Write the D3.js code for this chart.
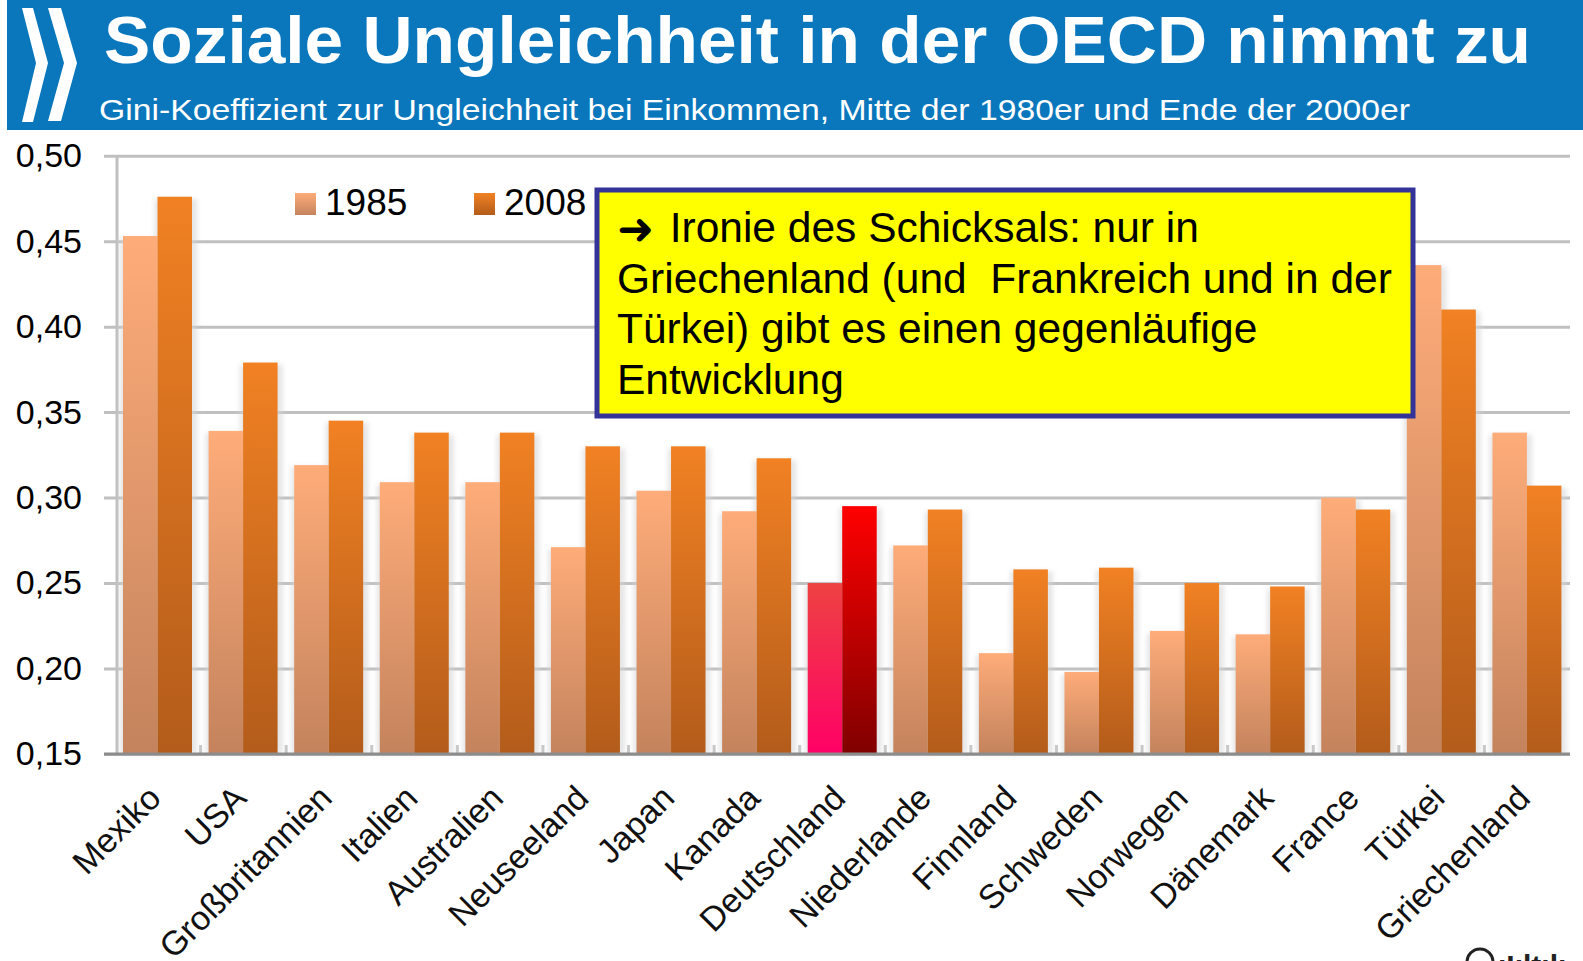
<!DOCTYPE html>
<html>
<head>
  <meta charset="UTF-8">
  <style>
    body { margin: 0; background: white; }
    svg { display: block; font-family: "Liberation Sans", Arial, sans-serif; }
  </style>
</head>
<body>

<svg></svg>
<script src="https://d3js.org/d3.v7.min.js"></script>

<script>

// Chart data (Gini coefficients)
let countries = ["Mexiko", "USA", "Großbritannien", "Italien", "Australien", "Neuseeland",
  "Japan", "Kanada", "Deutschland", "Niederlande", "Finnland", "Schweden", "Norwegen",
  "Dänemark", "France", "Türkei", "Griechenland"];
let years = ["1985", "2008"];
let gini1985 = [0.453, 0.339, 0.319, 0.309, 0.309, 0.271, 0.304, 0.292, 0.250, 0.272,
  0.209, 0.198, 0.222, 0.220, 0.300, 0.436, 0.338];
let gini2008 = [0.476, 0.379, 0.345, 0.338, 0.338, 0.330, 0.330, 0.323, 0.295, 0.293,
  0.258, 0.259, 0.250, 0.248, 0.293, 0.410, 0.307];
let yTicks = [0.15, 0.20, 0.25, 0.30, 0.35, 0.40, 0.45, 0.50];
let highlight = "Deutschland";

let title = "Soziale Ungleichheit in der OECD nimmt zu";
let subtitle = "Gini-Koeffizient zur Ungleichheit bei Einkommen, Mitte der 1980er und Ende der 2000er";
let noteLines = [" Ironie des Schicksals: nur in",
  "Griechenland (und  Frankreich und in der",
  "Türkei) gibt es einen gegenläufige",
  "Entwicklung"];

let width = 1583, height = 961;

let svg = d3.select("svg")
    .attr("width", width)
    .attr("height", height);

let defs = svg.append("defs");

function addGradient(id, top, bottom) {
  let g = defs.append("linearGradient")
      .attr("id", id)
      .attr("x1", 0).attr("y1", 0).attr("x2", 0).attr("y2", 1);
  g.append("stop").attr("offset", "0%").attr("stop-color", top);
  g.append("stop").attr("offset", "100%").attr("stop-color", bottom);
}
addGradient("g1985", "#feac79", "#c4835d");
addGradient("g2008", "#f18123", "#b35c1b");
addGradient("gDe1985", "#ee4242", "#ff0066");
addGradient("gDe2008", "#ff0000", "#800000");

defs.append("filter").attr("id", "blur")
    .append("feGaussianBlur").attr("stdDeviation", 2.5);

// Header band
svg.append("rect")
    .attr("x", 7).attr("y", 0)
    .attr("width", width - 7).attr("height", 130)
    .attr("fill", "#0a77bd");

// OECD chevrons
svg.append("polygon")
    .attr("points", "22,8 33,8 48,63 33,122 22,122 36,63")
    .attr("fill", "white");
svg.append("polygon")
    .attr("points", "48,8 61,8 77,63 61,121 48,121 64,63")
    .attr("fill", "white");

svg.append("text")
    .attr("x", 104).attr("y", 63)
    .attr("fill", "white")
    .attr("font-size", 66)
    .attr("font-weight", "bold")
    .attr("textLength", 1427)
    .attr("lengthAdjust", "spacingAndGlyphs")
    .text(title);

svg.append("text")
    .attr("x", 99).attr("y", 120)
    .attr("fill", "white")
    .attr("font-size", 30)
    .attr("textLength", 1311)
    .attr("lengthAdjust", "spacingAndGlyphs")
    .text(subtitle);

// Scales
let x = d3.scaleBand()
    .domain(countries)
    .range([117, 1572]);

let xInner = d3.scaleBand()
    .domain(years)
    .range([6, 75]);

let y = d3.scaleLinear()
    .domain([0.15, 0.50])
    .range([754, 155.7]);

let fmt = d3.formatLocale({decimal: ",", thousands: ".", grouping: [3], currency: ["", "€"]})
    .format(".2f");

// Gridlines + y labels
let yAxis = d3.axisLeft(y)
    .tickValues(yTicks)
    .tickFormat(fmt)
    .tickSizeInner(-(1570 - 104))
    .tickSizeOuter(0)
    .tickPadding(22);

let yg = svg.append("g")
    .attr("transform", "translate(104,0)")
    .call(yAxis);
yg.select(".domain").remove();
yg.selectAll(".tick line")
    .attr("stroke", "#c0c0c0")
    .attr("stroke-width", 3);
yg.selectAll(".tick text")
    .attr("font-size", 34)
    .attr("fill", "black")
    .attr("font-family", "'Liberation Sans', Arial, sans-serif");

// vertical axis line
svg.append("line")
    .attr("x1", 117).attr("x2", 117)
    .attr("y1", y(0.50)).attr("y2", y(0.15))
    .attr("stroke", "#c0c0c0")
    .attr("stroke-width", 3);

// rows table for bars
let rows = countries.map((c, i) => ({country: c, values: [
  {year: "1985", value: gini1985[i]},
  {year: "2008", value: gini2008[i]}
]}));

let groups = svg.append("g")
    .selectAll("g")
    .data(rows)
    .enter()
    .append("g")
    .attr("transform", d => `translate(${x(d.country)},0)`);

// soft shadows
groups.selectAll("rect.shadow")
    .data(d => d.values)
    .enter()
    .append("rect")
    .attr("class", "shadow")
    .attr("x", d => xInner(d.year) - 3)
    .attr("y", d => y(d.value) + 2)
    .attr("width", xInner.bandwidth() + 8)
    .attr("height", d => y(0.15) - y(d.value) - 2)
    .attr("fill", "#d4d4d4")
    .attr("opacity", 0.6)
    .attr("filter", "url(#blur)");

groups.each(function(row) {
  d3.select(this).selectAll("rect.bar")
      .data(row.values)
      .enter()
      .append("rect")
      .attr("class", "bar")
      .attr("x", d => xInner(d.year))
      .attr("y", d => y(d.value))
      .attr("width", xInner.bandwidth())
      .attr("height", d => y(0.15) - y(d.value))
      .attr("fill", d => row.country == highlight
          ? (d.year == "1985" ? "url(#gDe1985)" : "url(#gDe2008)")
          : (d.year == "1985" ? "url(#g1985)" : "url(#g2008)"));
});

// small ticks between categories
svg.append("g")
    .selectAll("line")
    .data(countries.slice(1))
    .enter()
    .append("line")
    .attr("x1", d => x(d) - 2).attr("x2", d => x(d) - 2)
    .attr("y1", y(0.15) - 9).attr("y2", y(0.15))
    .attr("stroke", "#c8c8c8")
    .attr("stroke-width", 3);

// base line
svg.append("line")
    .attr("x1", 104).attr("x2", 1570)
    .attr("y1", y(0.15)).attr("y2", y(0.15))
    .attr("stroke", "#8c8c8c")
    .attr("stroke-width", 3);

// category labels, rotated
svg.append("g")
    .selectAll("text")
    .data(countries)
    .enter()
    .append("text")
    .attr("transform", d => `translate(${x(d) + x.bandwidth() / 2 + 3},800) rotate(-45)`)
    .attr("text-anchor", "end")
    .attr("font-size", 34)
    .attr("fill", "#111")
    .text(d => d);

// legend
let legend = svg.append("g")
    .selectAll("g")
    .data(years)
    .enter()
    .append("g")
    .attr("transform", (d, i) => `translate(${295 + i * 179},193)`);

legend.append("rect")
    .attr("width", 21).attr("height", 22)
    .attr("fill", d => d == "1985" ? "url(#g1985)" : "url(#g2008)");

legend.append("text")
    .attr("x", 30).attr("y", 22)
    .attr("font-size", 37)
    .attr("fill", "black")
    .text(d => d);

// callout box
let note = svg.append("g");
note.append("rect")
    .attr("x", 597).attr("y", 190)
    .attr("width", 816).attr("height", 226)
    .attr("fill", "#ffff00")
    .attr("stroke", "#333399")
    .attr("stroke-width", 5);

let noteText = note.selectAll("text")
    .data(noteLines)
    .enter()
    .append("text")
    .attr("x", 617)
    .attr("y", (d, i) => 242 + i * 50.5)
    .attr("font-size", 42.5)
    .attr("fill", "black")
    .style("white-space", "pre");

noteText.filter((d, i) => i == 0)
    .append("tspan")
    .attr("font-family", "'DejaVu Sans', sans-serif")
    .attr("font-weight", "bold")
    .attr("font-size", 44)
    .attr("dy", 2)
    .text("\u279C");

noteText.filter((d, i) => i == 0)
    .append("tspan")
    .attr("dy", -2)
    .attr("dx", 4)
    .text(d => d);

noteText.filter((d, i) => i > 0)
    .append("tspan")
    .text(d => d);

// bottom-right logo, mostly cut off
svg.append("circle")
    .attr("cx", 1480).attr("cy", 962).attr("r", 13)
    .attr("fill", "none").attr("stroke", "#222").attr("stroke-width", 3);
svg.append("text")
    .attr("x", 1498).attr("y", 976)
    .attr("font-size", 30)
    .attr("font-weight", "bold")
    .attr("fill", "#222")
    .text("ıIıltılı");

</script>

</body>
</html>
